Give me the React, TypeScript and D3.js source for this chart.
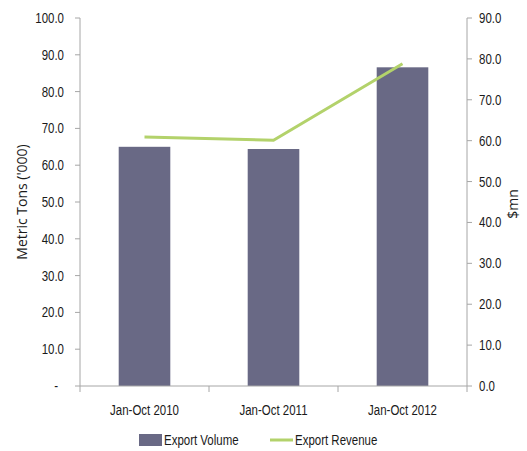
import React from "react";
import * as d3 from "d3";

const categories = ["Jan-Oct 2010", "Jan-Oct 2011", "Jan-Oct 2012"];
const exportVolume = [65.0, 64.4, 86.6]; // metric tons ('000)
const exportRevenue = [60.9, 60.1, 78.8]; // $mn
const leftTicks = [0, 10, 20, 30, 40, 50, 60, 70, 80, 90, 100];
const rightTicks = [0, 10, 20, 30, 40, 50, 60, 70, 80, 90];

const W = 527;
const H = 451;
const margin = { left: 80, right: 60, top: 18, bottom: 65 };
const font = "'Liberation Sans', Arial, sans-serif";
const axisColor = "#a6a6a6";
const textColor = "#1a1a1a";

// Condensed label: Liberation Sans squeezed horizontally
function CText(props: {
  x: number;
  y: number;
  anchor?: "start" | "middle" | "end";
  size?: number;
  children: React.ReactNode;
}) {
  const { x, y, anchor = "start", size = 14, children } = props;
  return (
    <text
      transform={`translate(${x},${y}) scale(0.82,1)`}
      textAnchor={anchor}
      fontFamily={font}
      fontSize={size}
      fill={textColor}
    >
      {children}
    </text>
  );
}

export default function App() {
  const x0 = margin.left;
  const x1 = W - margin.right;
  const yTop = margin.top;
  const yBot = H - margin.bottom;

  const x = d3.scaleBand<string>().domain(categories).range([x0, x1]).paddingInner(0.6).paddingOuter(0.3);
  const band = d3.scaleBand<string>().domain(categories).range([x0, x1]);
  const yL = d3.scaleLinear().domain([0, 100]).range([yBot, yTop]);
  const yR = d3.scaleLinear().domain([0, 90]).range([yBot, yTop]);

  const line = d3
    .line<number>()
    .x((_, i) => (band(categories[i]) as number) + band.bandwidth() / 2)
    .y((d) => yR(d));

  return (
    <svg width={W} height={H} style={{ position: "absolute", left: 0, top: 0, background: "#fff" }}>
      {/* bars */}
      {exportVolume.map((v, i) => (
        <rect
          key={categories[i]}
          x={x(categories[i])}
          y={yL(v)}
          width={x.bandwidth()}
          height={yBot - yL(v)}
          fill="#696985"
        />
      ))}
      {/* revenue line */}
      <path d={line(exportRevenue) || ""} fill="none" stroke="#b3d26b" strokeWidth={3} />

      {/* left axis */}
      <line x1={x0} x2={x0} y1={yTop} y2={yBot} stroke={axisColor} />
      {leftTicks.map((t) => (
        <g key={"l" + t}>
          <line x1={x0 - 5} x2={x0} y1={yL(t)} y2={yL(t)} stroke={axisColor} />
          <CText x={t === 0 ? x0 - 22 : x0 - 16} y={yL(t) + 5}  anchor="end">
            {t === 0 ? "-" : t.toFixed(1)}
          </CText>
        </g>
      ))}
      {/* right axis */}
      <line x1={x1} x2={x1} y1={yTop} y2={yBot} stroke={axisColor} />
      {rightTicks.map((t) => (
        <g key={"r" + t}>
          <line x1={x1} x2={x1 + 5} y1={yR(t)} y2={yR(t)} stroke={axisColor} />
          <CText x={x1 + 12} y={yR(t) + 5}>
            {t.toFixed(1)}
          </CText>
        </g>
      ))}
      {/* category axis */}
      <line x1={x0} x2={x1} y1={yBot} y2={yBot} stroke={axisColor} />
      {[...categories.map((c) => band(c) as number), x1].map((px, i) => (
        <line key={"t" + i} x1={px} x2={px} y1={yBot} y2={yBot + 6} stroke={axisColor} />
      ))}
      {categories.map((c) => (
        <CText key={c} x={(band(c) as number) + band.bandwidth() / 2} y={yBot + 29} anchor="middle">
          {c}
        </CText>
      ))}

      {/* axis titles */}
      <text
        transform={`translate(27,${(yTop + yBot) / 2}) rotate(-90)`}
        textAnchor="middle"
        fontFamily="'Open Sans', Arial, sans-serif"
        fontSize={14}
        fill={textColor}
      >
        Metric Tons ('000)
      </text>
      <text
        transform={`translate(518,${(yTop + yBot) / 2 + 2}) rotate(-90)`}
        textAnchor="middle"
        fontFamily="'Open Sans', Arial, sans-serif"
        fontSize={14}
        fill={textColor}
      >
        $mn
      </text>

      {/* legend */}
      <rect x={139} y={434} width={23} height={12} fill="#696985" />
      <CText x={164} y={445}>
        Export Volume
      </CText>
      <line x1={270} x2={293} y1={440} y2={440} stroke="#b3d26b" strokeWidth={3} />
      <CText x={295} y={445}>
        Export Revenue
      </CText>
    </svg>
  );
}
